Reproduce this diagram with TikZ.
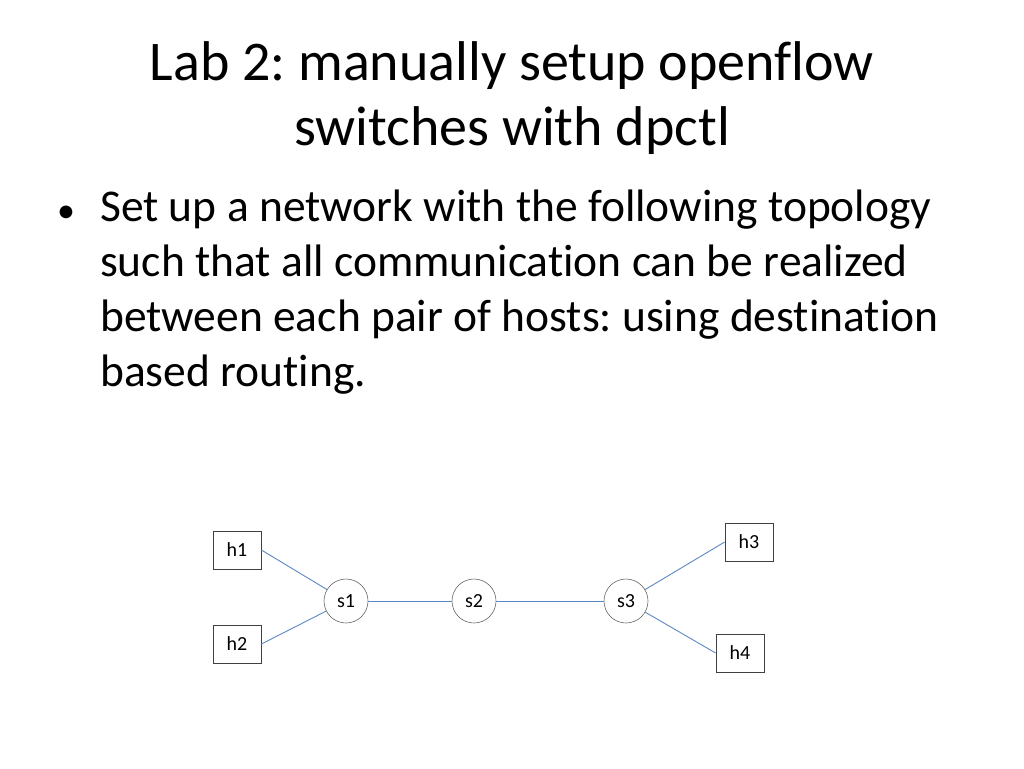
\documentclass[tikz,border=0pt]{standalone}
\usepackage{fontspec}
\setmainfont[RawFeature=-liga]{Carlito}
\frenchspacing
\begin{document}
\begin{tikzpicture}[x=1pt,y=-1pt,
  host/.style={draw=black!75,line width=0.8pt,minimum width=48pt,minimum height=38pt,font=\fontsize{20}{24}\selectfont,inner sep=0pt},
  sw/.style={circle,draw=black!60,line width=0.6pt,minimum size=44pt,font=\fontsize{20}{24}\selectfont,inner sep=0pt},
  link/.style={draw={rgb,255:red,91;green,135;blue,196},line width=0.9pt}]
\useasboundingbox (0,0) rectangle (1024,768);
\node (t1) at (512,66) {\fontsize{56}{66}\selectfont\frenchspacing Lab 2: manually setup openflow};
\node (t2) at (512,131) {\fontsize{56}{66}\selectfont switches with dpctl};
\node (b) at (66,214) {\fontsize{36}{40}\selectfont •};
\node[anchor=north west,inner sep=0pt,align=left,font=\fontsize{45.5}{55}\selectfont] (body) at (100,190)
 {Set up a network with the following topology\\such that all communication can be realized\\between each pair of hosts: using destination\\based routing.};
\node[host] (h1) at (237,550) {h1};
\node[host] (h2) at (237,644) {h2};
\node[host] (h3) at (749,542) {h3};
\node[host] (h4) at (740,653) {h4};
\node[sw] (s1) at (346,601) {s1};
\node[sw] (s2) at (474,601) {s2};
\node[sw] (s3) at (626,601) {s3};
\draw[link] (h1.east) -- (s1);
\draw[link] (h2.east) -- (s1);
\draw[link] (s1) -- (s2);
\draw[link] (s2) -- (s3);
\draw[link] (s3) -- (h3.west);
\draw[link] (s3) -- (h4.west);
\end{tikzpicture}
\end{document}
